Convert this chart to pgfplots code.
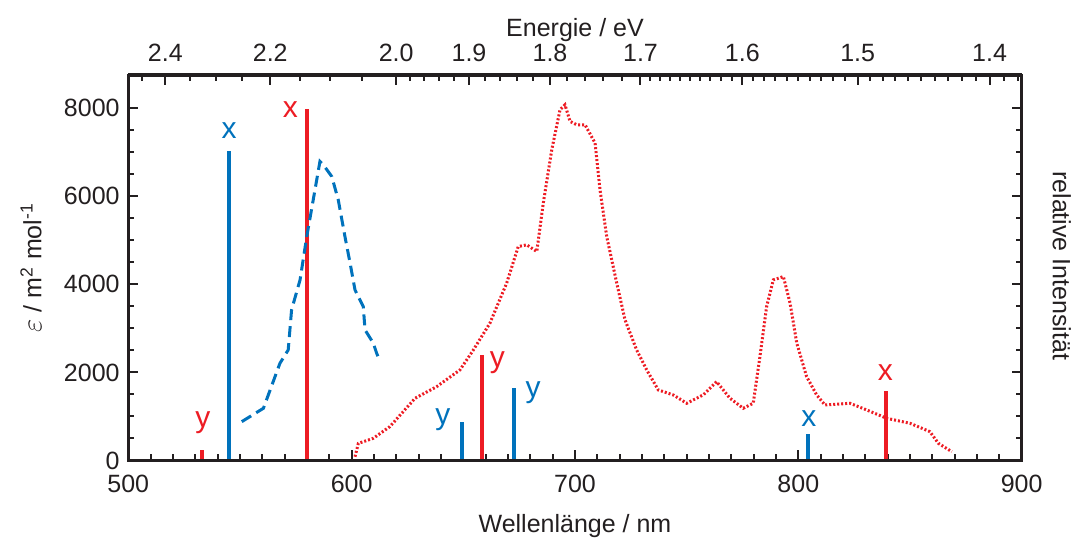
\documentclass[border=0pt]{standalone}
\usepackage{fontspec}
\setmainfont{Liberation Sans}
\usepackage{pgfplots}
\pgfplotsset{compat=1.18}
\definecolor{cblue}{HTML}{0072BC}
\definecolor{cred}{HTML}{ED1C24}
\definecolor{ink}{HTML}{231F20}
\begin{document}
\fontsize{12.5}{15}\selectfont
\begin{tikzpicture}[x=1pt,y=1pt]
\useasboundingbox (0,0) rectangle (539,270);
\begin{axis}[
  at={(64.15pt,39.75pt)}, anchor=south west,
  scale only axis, width=446.7pt, height=192.75pt,
  xmin=500, xmax=900, ymin=0, ymax=8755,
  axis line style={line width=1.5pt, ink},
  every tick/.style={line width=1pt, ink},
  major tick length=5pt, minor tick length=3pt,
  tick align=inside,
  xtick={500,600,...,900}, minor x tick num=9,
  ytick={0,2000,...,8000}, minor y tick num=3,
  xtick pos=left, ytick pos=both, yticklabel pos=left,
  xticklabel style={yshift=-3pt, text=ink},
  yticklabel style={text=ink},
  /pgf/number format/assume math mode=true,
  /pgf/number format/1000 sep={},
  scaled y ticks=false,
  xlabel={Wellenlänge / nm},
  ylabel={{\fontsize{15}{18}\selectfont$\varepsilon$} / m\textsuperscript{2} mol\textsuperscript{-1}},
  xlabel style={at={(axis description cs:0.5,-0.188)}, anchor=base, text=ink},
  ylabel style={at={(axis description cs:-0.109,0.5)}, anchor=center, text=ink},
  clip=false,
]
% sticks
\addplot[ycomb, cblue, line width=2.2pt, mark=none] coordinates {
  (545.1,7034) (649.3,882) (672.8,1655) (804.2,602)};
\addplot[ycomb, cred, line width=2pt, mark=none] coordinates {
  (532.9,240) (579.9,7990) (658.2,2398) (839.2,1587)};
% absorption
\addplot[cblue, line width=1.5pt, dash pattern=on 5.5pt off 3pt, mark=none] coordinates {
  (550.8,882)(560.5,1186)(567.9,2209)(571.6,2511)(573.1,3420)(576.9,4102)
  (579.9,5086)(582.8,5920)(585.8,6791)(587.3,6716)(591.1,6450)(594.0,5920)
  (597.0,5086)(599.3,4482)(601.5,3875)(605.2,3495)(606.0,2966)(609.7,2664)
  (611.2,2436)(612.7,2245)};
% emission
\addplot[cred, line width=1.5pt, dash pattern=on 1pt off 1pt, mark=none] coordinates {
  (601.5,86)(603.0,390)(609.7,504)(617.1,769)(628.4,1413)(638.1,1678)
  (648.5,2057)(654.5,2511)(661.9,3118)(669.4,4027)(674.6,4859)(678.4,4898)
  (682.9,4746)(685.8,5845)(689.6,7057)(693.3,7966)(695.5,8080)(697.8,7700)
  (700.8,7625)(704.5,7625)(709.0,7209)(711.2,6148)(714.2,5086)(718.7,4027)
  (722.4,3193)(727.6,2511)(732.1,2057)(737.3,1602)(744.0,1489)(750.0,1300)
  (757.4,1489)(763.4,1791)(769.4,1413)(775.3,1186)(779.8,1300)(782.8,2359)
  (785.8,3495)(788.8,4102)(793.3,4177)(796.3,3573)(799.3,2664)(803.7,1905)
  (808.2,1489)(811.9,1261)(823.1,1300)(830.6,1148)(839.5,959)(850.0,845)
  (858.9,655)(862.7,390)(868.7,200)};
% stick labels
\begin{scope}[every node/.style={font=\fontsize{15}{18}\selectfont, inner sep=0pt}]
\node[text=cblue] at (axis cs:545.1,7489) {x};
\node[text=cred]  at (axis cs:572.6,7966) {x};
\node[text=cred]  at (axis cs:533.4,852) {y};
\node[text=cblue] at (axis cs:640.9,920) {y};
\node[text=cred]  at (axis cs:665.3,2227) {y};
\node[text=cblue] at (axis cs:681.3,1534) {y};
\node[text=cblue] at (axis cs:804.7,943) {x};
\node[text=cred]  at (axis cs:839.0,2000) {x};
\end{scope}
\node[rotate=-90, text=ink] at (rel axis cs:1.045,0.505) {relative Intensität};
\end{axis}
\begin{axis}[
  at={(64.15pt,39.75pt)}, anchor=south west,
  scale only axis, width=446.7pt, height=192.75pt,
  xmin=500, xmax=900, ymin=0, ymax=1,
  hide y axis,
  axis line style={line width=1.5pt, ink},
  every tick/.style={line width=1pt, ink},
  major tick length=5pt, minor tick length=3pt,
  tick align=inside,
  xtick pos=right, xticklabel pos=right,
  xtick={516.60,563.56,619.92,652.55,688.80,729.32,774.90,826.56,885.60},
  xticklabels={2.4,2.2,2.0,1.9,1.8,1.7,1.6,1.5,1.4},
  minor xtick={506.06,527.59,539.06,551.04,576.67,590.40,604.80,
    626.18,632.57,639.09,645.75,659.49,666.58,673.83,681.23,
    696.54,704.45,712.55,720.84,
    733.63,738.00,742.42,746.89,751.42,756.00,760.64,765.33,770.09,
    779.77,784.71,789.71,794.77,799.90,805.09,810.35,815.68,821.09,
    832.11,837.73,843.43,849.21,855.06,861.00,867.02,873.13,879.33,
    891.97,898.43},
  xticklabel style={yshift=2.3pt, text=ink},
  xlabel={Energie / eV},
  xlabel style={at={(axis description cs:0.5,1.101)}, anchor=base, text=ink},
]
\addplot[draw=none] coordinates {(500,0) (900,1)};
\end{axis}
\end{tikzpicture}
\end{document}
